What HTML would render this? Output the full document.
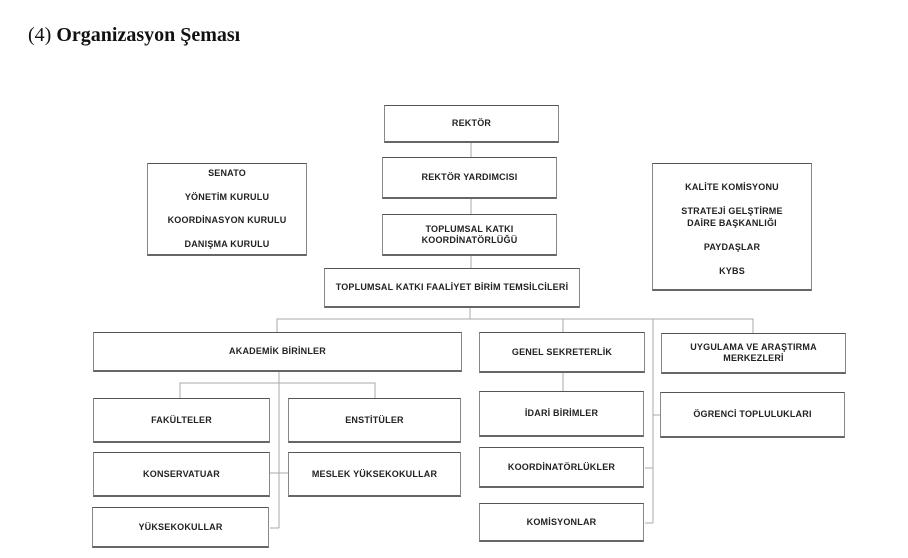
<!DOCTYPE html>
<html><head><meta charset="utf-8"><style>
body{margin:0;width:908px;height:558px;background:#fff;position:relative;overflow:hidden;font-family:"Liberation Sans",sans-serif}
.t{position:absolute;left:28px;top:24px;font-family:"Liberation Serif",serif;font-size:20px;color:#111;white-space:nowrap}
.b{position:absolute;box-sizing:border-box;border:1px solid #888;border-top:1.5px solid #555;border-bottom:2px solid #666;display:flex;align-items:center;justify-content:center;text-align:center;font-weight:bold;font-size:9px;color:#222;line-height:11px;letter-spacing:0.2px}
.l{position:absolute;font-weight:bold;font-size:9px;color:#222;text-align:center;white-space:nowrap;letter-spacing:0.2px}
svg{position:absolute;left:0;top:0}
</style></head><body>
<div class="t">(4) <b>Organizasyon Şeması</b></div>
<svg width="908" height="558" stroke="#aaa" stroke-width="1" fill="none">
<line x1="471" y1="143" x2="471" y2="157"/>
<line x1="471" y1="199" x2="471" y2="214"/>
<line x1="471" y1="256" x2="471" y2="268"/>
<line x1="470" y1="308" x2="470" y2="319"/>
<polyline points="277,332 277,319 753,319 753,333"/>
<line x1="563" y1="319" x2="563" y2="332"/>
<line x1="653" y1="319" x2="653" y2="523"/>
<line x1="653" y1="415" x2="660" y2="415"/>
<line x1="645" y1="468" x2="653" y2="468"/>
<line x1="645" y1="523" x2="653" y2="523"/>
<line x1="563" y1="373" x2="563" y2="391"/>
<line x1="279" y1="372" x2="279" y2="528"/>
<polyline points="180,398 180,383 375,383 375,398"/>
<line x1="270" y1="473" x2="288" y2="473"/>
<line x1="270" y1="528" x2="279" y2="528"/>
</svg>
<div class="b" style="left:384px;top:105px;width:175px;height:38px">REKTÖR</div>
<div class="b" style="left:382px;top:157px;width:175px;height:42px">REKTÖR YARDIMCISI</div>
<div class="b" style="left:382px;top:214px;width:175px;height:42px">TOPLUMSAL KATKI<br>KOORDİNATÖRLÜĞÜ</div>
<div class="b" style="left:324px;top:268px;width:256px;height:40px">TOPLUMSAL KATKI FAALİYET BİRİM TEMSİLCİLERİ</div>
<div class="b" style="left:147px;top:163px;width:160px;height:93px"></div>
<div class="l" style="left:147px;width:160px;top:168px">SENATO</div>
<div class="l" style="left:147px;width:160px;top:192px">YÖNETİM KURULU</div>
<div class="l" style="left:147px;width:160px;top:215px">KOORDİNASYON KURULU</div>
<div class="l" style="left:147px;width:160px;top:239px">DANIŞMA KURULU</div>
<div class="b" style="left:652px;top:163px;width:160px;height:128px"></div>
<div class="l" style="left:652px;width:160px;top:182px">KALİTE KOMİSYONU</div>
<div class="l" style="left:652px;width:160px;top:205px;line-height:12px">STRATEJİ GELŞTİRME<br>DAİRE BAŞKANLIĞI</div>
<div class="l" style="left:652px;width:160px;top:242px">PAYDAŞLAR</div>
<div class="l" style="left:652px;width:160px;top:266px">KYBS</div>
<div class="b" style="left:93px;top:332px;width:369px;height:40px">AKADEMİK BİRİNLER</div>
<div class="b" style="left:479px;top:332px;width:166px;height:41px">GENEL SEKRETERLİK</div>
<div class="b" style="left:661px;top:333px;width:185px;height:41px">UYGULAMA VE ARAŞTIRMA<br>MERKEZLERİ</div>
<div class="b" style="left:93px;top:398px;width:177px;height:45px">FAKÜLTELER</div>
<div class="b" style="left:288px;top:398px;width:173px;height:45px">ENSTİTÜLER</div>
<div class="b" style="left:93px;top:452px;width:177px;height:45px">KONSERVATUAR</div>
<div class="b" style="left:288px;top:452px;width:173px;height:45px">MESLEK YÜKSEKOKULLAR</div>
<div class="b" style="left:92px;top:507px;width:177px;height:41px">YÜKSEKOKULLAR</div>
<div class="b" style="left:479px;top:391px;width:165px;height:46px">İDARİ BİRİMLER</div>
<div class="b" style="left:479px;top:447px;width:165px;height:41px">KOORDİNATÖRLÜKLER</div>
<div class="b" style="left:479px;top:503px;width:165px;height:39px">KOMİSYONLAR</div>
<div class="b" style="left:660px;top:392px;width:185px;height:46px">ÖGRENCİ TOPLULUKLARI</div>
</body></html>
